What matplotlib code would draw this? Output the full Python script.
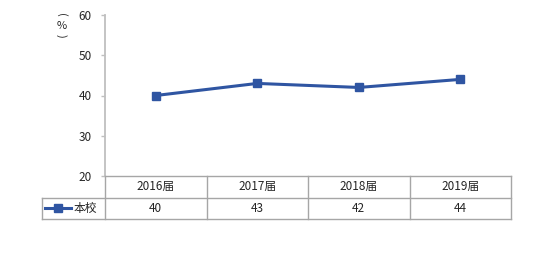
import matplotlib as mpl
mpl.use('Agg')
import matplotlib.pyplot as plt
from matplotlib.transforms import blended_transform_factory

plt.rcParams['font.family'] = ['Noto Sans CJK SC', 'DejaVu Sans']

categories = ['2016届', '2017届', '2018届', '2019届']
values = [40, 43, 42, 44]
series_name = '本校'
yticks = [20, 30, 40, 50, 60]

line_color = '#2F55A2'
grid_color = '#A6A6A6'
text_color = '#262626'

fig = plt.figure(figsize=(5.47, 2.64), dpi=100)
W, H = 547, 264
ax = fig.add_axes([105 / W, (H - 176) / H, (511 - 105) / W, (176 - 15) / H])

x = list(range(len(categories)))
ax.plot(x, values, color=line_color, lw=2.2, marker='s', ms=5.5, clip_on=False)

ax.set_xlim(-0.5, len(categories) - 0.5)
ax.set_ylim(20, 60)
ax.set_yticks(yticks)
ax.set_xticks([])
ax.tick_params(axis='y', length=3, width=1, color='#BFBFBF', labelsize=8.5,
               labelcolor=text_color, pad=6.5)
for s in ['top', 'right']:
    ax.spines[s].set_visible(False)
ax.spines['left'].set_color('#BFBFBF')
ax.spines['left'].set_linewidth(1.3)
ax.spines['bottom'].set_color(grid_color)
ax.spines['bottom'].set_linewidth(1)

# vertical "(%)" unit label
tr = blended_transform_factory(ax.transData, ax.transAxes)
ax.text(-0.93, 1.0, '(', transform=tr, rotation=-90, ha='center', va='center',
        fontsize=8, color=text_color)
ax.text(-0.93, 0.93, '%', transform=tr, ha='center', va='center',
        fontsize=8, color=text_color)
ax.text(-0.93, 0.87, ')', transform=tr, rotation=-90, ha='center', va='center',
        fontsize=8, color=text_color)

# data table below the axis
row = 21.5 / (176 - 15)
left = -0.5 - (105 - 42) / ((511 - 105) / len(categories))
right = len(categories) - 0.5
lk = dict(color=grid_color, lw=1, transform=tr, clip_on=False)
ax.plot([left, right], [-row, -row], **lk)
ax.plot([left, right], [-2 * row, -2 * row], **lk)
ax.plot([left, left], [-row, -2 * row], **lk)
for b in [i - 0.5 for i in range(len(categories) + 1)]:
    ax.plot([b, b], [0, -2 * row], **lk)
for i, (c, v) in enumerate(zip(categories, values)):
    ax.text(i, -0.5 * row, c, transform=tr, ha='center', va='center',
            fontsize=8.5, color=text_color)
    ax.text(i, -1.5 * row, str(v), transform=tr, ha='center', va='center',
            fontsize=8.5, color=text_color)

# legend key in the table
kx0 = left + 0.03
kx1 = left + 0.29
ax.plot([kx0, kx1], [-1.5 * row, -1.5 * row], color=line_color, lw=2.2,
        transform=tr, clip_on=False)
ax.plot([(kx0 + kx1) / 2], [-1.5 * row], color=line_color, marker='s', ms=5.5,
        transform=tr, clip_on=False)
ax.text(kx1 + 0.02, -1.5 * row, series_name, transform=tr, ha='left', va='center',
        fontsize=8.5, color=text_color)

fig.savefig('out.png', dpi=100)
